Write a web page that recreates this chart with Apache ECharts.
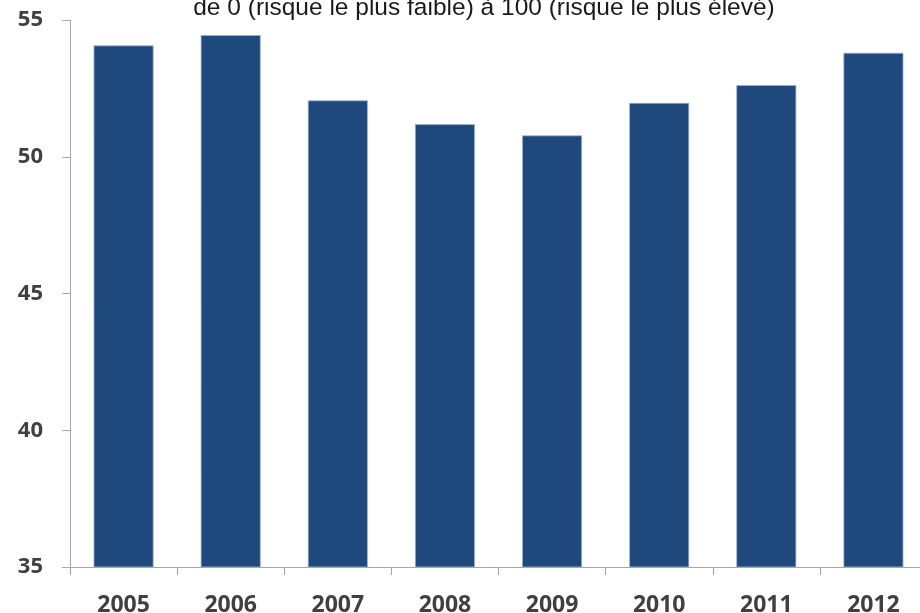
<!DOCTYPE html>
<html>
<head>
<meta charset="utf-8">
<script src="https://cdn.jsdelivr.net/npm/echarts@6/dist/echarts.min.js"></script>
<style>html,body{margin:0;padding:0;background:#fff}#c{width:920px;height:613px}</style>
</head>
<body>
<div id="c"></div>
<script>
const titleText = "de 0 (risque le plus faible) à 100 (risque le plus élevé)";
const categories = ["2005", "2006", "2007", "2008", "2009", "2010", "2011", "2012"];
const values = [54.07, 54.45, 52.06, 51.19, 50.78, 51.97, 52.62, 53.80];
const yMin = 35, yMax = 55, yStep = 5;

const chart = echarts.init(document.getElementById('c'));
chart.setOption({
  animation: false,
  title: {
    text: titleText,
    left: 479,
    top: -9,
    textAlign: 'center',
    textStyle: { fontFamily: 'Liberation Sans', fontSize: 24.5, fontWeight: 'normal', color: '#1a1a1a' }
  },
  grid: { left: 70, right: -7, top: 20, bottom: 46, containLabel: false, outerBoundsMode: 'none' },
  xAxis: {
    type: 'category',
    data: categories,
    axisLine: { lineStyle: { color: '#a6a6a6', width: 1 } },
    axisTick: { show: true, length: 8, lineStyle: { color: '#a6a6a6' } },
    axisLabel: { margin: 27, fontFamily: 'Open Sans', fontWeight: 'bold', fontSize: 23, color: '#404040' }
  },
  yAxis: {
    type: 'value',
    min: yMin, max: yMax, interval: yStep,
    splitLine: { show: false },
    axisLine: { show: true, lineStyle: { color: '#a6a6a6', width: 1 } },
    axisTick: { show: true, length: 8, lineStyle: { color: '#a6a6a6' } },
    axisLabel: { margin: 27, fontFamily: 'Open Sans', fontWeight: 'bold', fontSize: 22, color: '#404040' }
  },
  series: [{
    type: 'bar',
    data: values,
    barCategoryGap: '44%',
    itemStyle: { color: '#1f497d', borderColor: '#9fb3cc', borderWidth: 0.8 }
  }]
});
</script>
</body>
</html>
